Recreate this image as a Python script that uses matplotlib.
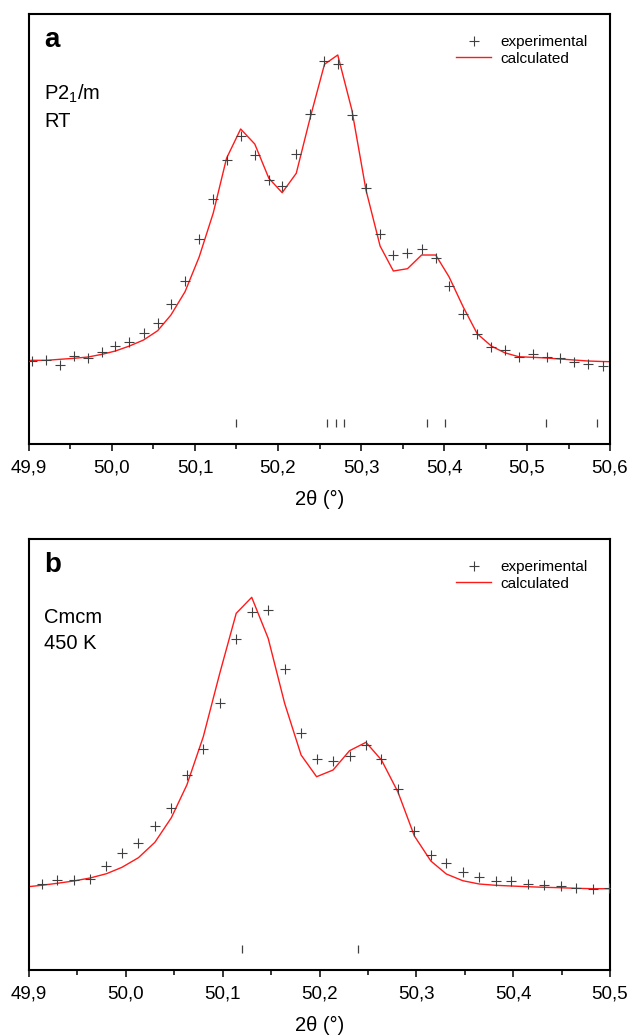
import matplotlib
matplotlib.use("Agg")
import matplotlib.pyplot as plt
from matplotlib.ticker import MultipleLocator, FuncFormatter

plt.rcParams['font.family'] = ['Liberation Sans', 'DejaVu Sans']
plt.rcParams['mathtext.default'] = 'regular'

# panel a: P2_1/m, RT
x_exp_a = [49.904, 49.921, 49.937, 49.954, 49.971, 49.988, 50.004, 50.021, 50.038, 50.055,
           50.071, 50.088, 50.105, 50.122, 50.138, 50.155, 50.172, 50.189, 50.205, 50.222,
           50.239, 50.256, 50.272, 50.289, 50.306, 50.323, 50.339, 50.356, 50.373, 50.390,
           50.406, 50.423, 50.440, 50.457, 50.473, 50.490, 50.507, 50.524, 50.540, 50.557,
           50.574, 50.591]
y_exp_a = [83.3, 84.0, 79.0, 87.7, 86.0, 91.7, 98.0, 102.0, 111.3, 121.3,
           139.7, 163.3, 205.0, 245.0, 284.3, 308.0, 289.0, 264.0, 258.3, 290.3,
           330.3, 383.0, 380.3, 328.7, 256.3, 209.7, 188.7, 190.7, 194.7, 185.7,
           158.3, 129.7, 110.3, 97.3, 94.0, 86.7, 89.7, 87.0, 86.3, 81.7,
           80.0, 78.3]
x_calc_a = [49.887] + x_exp_a + [50.607]
y_calc_a = [82.8, 83.7, 83.7, 84.7, 85.7, 87.0, 89.7, 93.0, 98.0, 104.0, 113.3,
            129.0, 152.3, 187.0, 231.0, 285.7, 315.0, 300.0, 265.7, 251.3, 270.7,
            327.0, 379.7, 389.0, 334.0, 254.0, 198.0, 173.0, 175.3, 189.0, 189.0,
            167.3, 137.3, 110.3, 98.0, 91.3, 87.3, 86.7, 86.0, 85.0, 84.0,
            83.0, 82.5, 82.2]
bragg_a = [50.150, 50.259, 50.270, 50.280, 50.380, 50.401, 50.523, 50.584]

# panel b: Cmcm, 450 K
x_exp_b = [49.913, 49.929, 49.946, 49.963, 49.980, 49.996, 50.013, 50.030, 50.047, 50.063,
           50.080, 50.097, 50.114, 50.130, 50.147, 50.164, 50.181, 50.197, 50.214, 50.231,
           50.248, 50.264, 50.281, 50.298, 50.315, 50.331, 50.348, 50.365, 50.382, 50.398,
           50.415, 50.432, 50.449, 50.465, 50.482, 50.499]
y_exp_b = [86.0, 90.0, 90.3, 91.0, 104.0, 116.7, 126.7, 144.0, 162.3, 194.7,
           221.3, 267.3, 331.3, 357.7, 360.3, 301.0, 237.3, 211.0, 208.7, 214.0,
           225.3, 211.0, 181.0, 139.3, 115.0, 107.3, 98.3, 93.0, 89.3, 89.0,
           85.7, 85.0, 84.3, 81.7, 80.7, 81.7]
x_calc_b = [49.896] + x_exp_b + [50.516]
y_calc_b = [83.0, 84.7, 86.7, 89.0, 92.0, 96.3, 102.7, 112.3, 127.7, 152.3,
            185.0, 233.3, 296.7, 356.7, 372.7, 331.7, 266.7, 215.0, 193.3, 200.0,
            219.3, 227.7, 210.0, 178.0, 134.0, 109.0, 96.0, 89.3, 86.0, 84.7,
            84.0, 83.3, 82.7, 82.3, 81.7, 81.3, 81.3, 81.2]
bragg_b = [50.120, 50.240]


def coma(v, pos):
    return f"{v:.1f}".replace('.', ',')


def graficar_panel(ax, x_exp, y_exp, x_calc, y_calc, bragg, xmin, xmax, ymax,
                   letra, fase, temp):
    ax.plot(x_calc, y_calc, color='#ff1a1a', lw=1.0, label='calculated', zorder=2)
    ax.plot(x_exp, y_exp, ls='none', marker='+', ms=6.5, mew=0.8,
            color='#404040', label='experimental', zorder=3)
    ax.vlines(bragg, 17, 25, color='#404040', lw=0.9)
    ax.set_xlim(xmin, xmax)
    ax.set_ylim(0, ymax)
    ax.set_yticks([])
    ax.xaxis.set_major_locator(MultipleLocator(0.1))
    ax.xaxis.set_minor_locator(MultipleLocator(0.05))
    ax.xaxis.set_major_formatter(FuncFormatter(coma))
    ax.tick_params(axis='x', which='major', length=5, width=1.1, labelsize=13.5, pad=6)
    ax.tick_params(axis='x', which='minor', length=3.5, width=1.1)
    for s in ax.spines.values():
        s.set_linewidth(1.5)
    ax.set_xlabel('2θ (°)', fontsize=14.5, labelpad=10)
    ax.text(0.026, 0.97, letra, transform=ax.transAxes, fontsize=20,
            fontweight='bold', va='top', ha='left')
    ax.text(0.026, 0.84, fase + '\n' + temp, transform=ax.transAxes, fontsize=14.5,
            va='top', ha='left', linespacing=1.45)
    h, l = ax.get_legend_handles_labels()
    ax.legend(h[::-1], l[::-1], loc='upper right', bbox_to_anchor=(0.98, 0.975),
              frameon=False, fontsize=11, handlelength=2.3, handletextpad=0.6,
              labelspacing=0.15, borderpad=0.2)


fig = plt.figure(figsize=(6.29, 10.36), dpi=100)
ax1 = fig.add_axes([0.0461, 0.5714, 0.9237, 0.4151])
ax2 = fig.add_axes([0.0461, 0.0637, 0.9237, 0.4160])

graficar_panel(ax1, x_exp_a, y_exp_a, x_calc_a, y_calc_a, bragg_a,
               49.9, 50.6, 430, 'a', r'P2$_1$/m', 'RT')
graficar_panel(ax2, x_exp_b, y_exp_b, x_calc_b, y_calc_b, bragg_b,
               49.9, 50.5, 431, 'b', 'Cmcm', '450 K')

fig.savefig('out.png', dpi=100)
